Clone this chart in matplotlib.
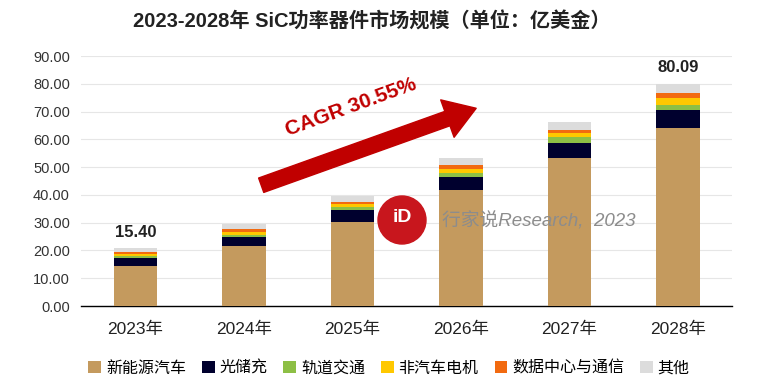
import matplotlib
matplotlib.use("Agg")
import matplotlib.pyplot as plt
import numpy as np
from matplotlib.patches import FancyArrowPatch, Ellipse

plt.rcParams['font.family'] = ['Liberation Sans', 'Noto Sans CJK SC', 'DejaVu Sans']

years = ["2023年", "2024年", "2025年", "2026年", "2027年", "2028年"]
series_names = ["新能源汽车", "光储充", "轨道交通", "非汽车电机", "数据中心与通信", "其他"]
ev = [14.4, 21.7, 30.2, 41.7, 53.3, 64.1]
pv_storage = [2.8, 3.0, 4.2, 4.6, 5.4, 6.6]
rail = [0.7, 0.9, 1.1, 1.7, 2.0, 1.8]
motor = [0.7, 0.9, 1.1, 1.3, 1.5, 2.3]
datacenter = [0.9, 1.2, 0.9, 1.4, 1.3, 1.8]
other = [1.4, 1.7, 2.0, 2.5, 2.9, 3.5]
colors = ["#C49A5E", "#00002E", "#8DBF45", "#FFC800", "#F26A10", "#DCDCDC"]
total_labels = {0: "15.40", 5: "80.09"}
cagr_text = "CAGR 30.55%"

fig = plt.figure(figsize=(7.83, 3.84), dpi=100)
ax = fig.add_axes([0.1034, 0.203, 0.832, 0.651])

x = np.arange(len(years))
bottom = np.zeros(len(years))
for name, vals, c in zip(series_names,
                         [ev, pv_storage, rail, motor, datacenter, other],
                         colors):
    ax.bar(x, vals, width=0.4, bottom=bottom, color=c, label=name, zorder=3)
    bottom += np.array(vals)

for i, txt in total_labels.items():
    ax.text(x[i], bottom[i] + 3.0, txt, ha="center", va="bottom",
            fontsize=12, fontweight="bold", color="#222222")

ax.set_xlim(-0.5, 5.5)
ax.set_ylim(0, 90)
ax.set_yticks(np.arange(0, 91, 10))
ax.set_yticklabels([f"{v:.2f}" for v in np.arange(0, 91, 10)], fontsize=10.5, color="#333333")
ax.set_xticks(x)
ax.set_xticklabels(years, fontsize=12.5, color="#222222")
ax.tick_params(axis="y", length=0, pad=8)
ax.tick_params(axis="x", length=0, pad=11)
ax.grid(axis="y", color="#E6E6E6", linewidth=0.8, zorder=0)
for s in ["left", "right", "top"]:
    ax.spines[s].set_visible(False)
ax.spines["bottom"].set_color("black")
ax.spines["bottom"].set_linewidth(1)

# growth arrow
arrow = FancyArrowPatch((1.16, 43.5), (3.14, 71.2),
                        arrowstyle="simple,head_width=2.6,head_length=2.0,tail_width=1.0",
                        mutation_scale=11, color="#C00000", zorder=5,
                        shrinkA=0, shrinkB=0)
ax.add_patch(arrow)
ax.text(1.99, 71.5, cagr_text, rotation=20, ha="center", va="center",
        fontsize=15, fontweight="bold", color="#C00000", zorder=6,
        rotation_mode="anchor")

# watermark
logo = Ellipse((402 / 783, (384 - 220) / 384), 48 / 783, 48 / 384,
               transform=fig.transFigure, color="#C8161D", zorder=10)
fig.patches.append(logo)
fig.text(402 / 783, (384 - 218) / 384, "iD", ha="center", va="center",
         fontsize=14, fontweight="bold", color="white", zorder=11)
fig.text(442 / 783, (384 - 221) / 384, "行家说Research,  2023", ha="left", va="center",
         fontsize=13.5, color="#8C8C8C", style="italic", zorder=11)

fig.text(372 / 783, (384 - 22) / 384, "2023-2028年 SiC功率器件市场规模（单位：亿美金）",
         ha="center", va="center", fontsize=14.5, fontweight="bold", color="#222222")

fig.legend(loc="center", bbox_to_anchor=(389 / 783, (384 - 368) / 384), ncol=6, frameon=False,
           fontsize=11.5, handlelength=0.8, handleheight=0.8, handletextpad=0.3,
           columnspacing=1.0)

fig.savefig("out.png", dpi=100)
